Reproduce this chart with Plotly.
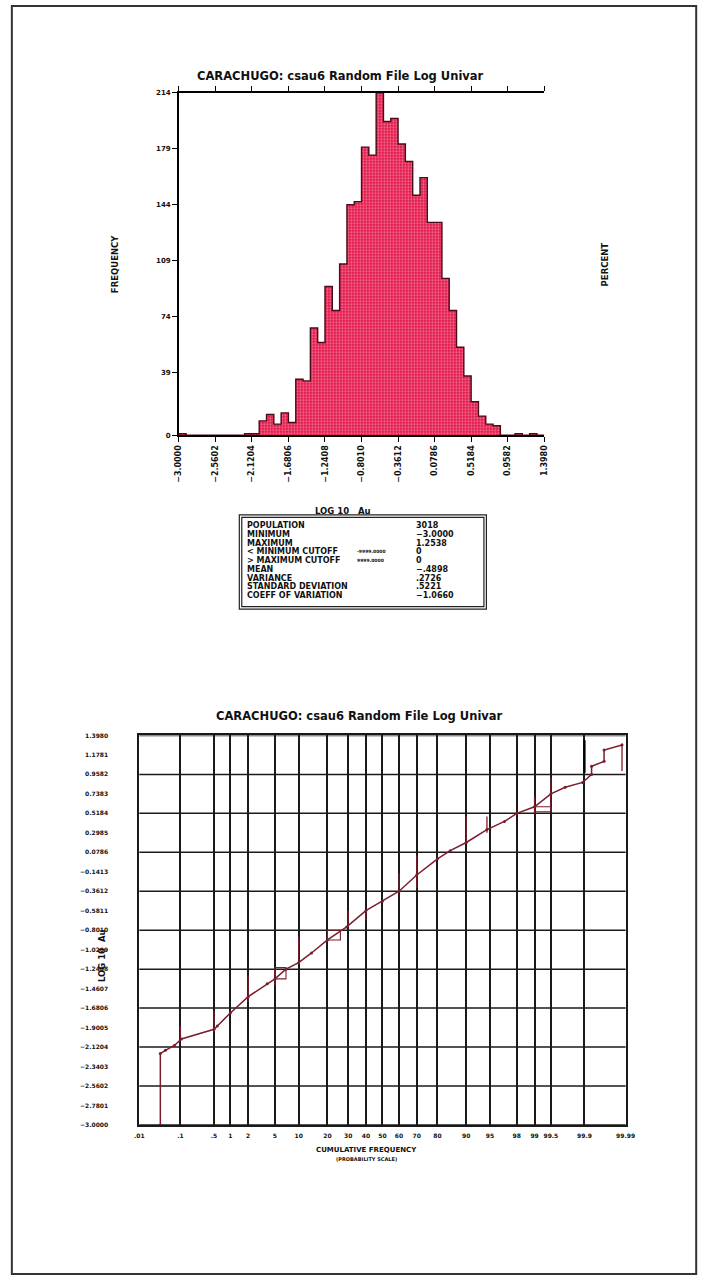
import plotly.graph_objects as go
from statistics import NormalDist

# ---------------- data ----------------
title_text = "CARACHUGO: csau6 Random File Log Univar"

hist_min = -3.0
hist_max = 1.398
n_bins = 50
# counts per bin (50 equal bins between hist_min and hist_max)
hist_counts = [1, 0, 0, 0, 0, 0, 0, 0, 0, 1,
               1, 9, 13, 7, 14, 8, 35, 34, 67, 58,
               93, 78, 107, 144, 146, 180, 175, 214, 196, 198,
               182, 171, 150, 161, 133, 133, 98, 78, 55, 37,
               21, 12, 7, 6, 0, 0, 1, 0, 1, 0]
freq_ticks = [0, 39, 74, 109, 144, 179, 214]
population = 3018

stat_labels = ["POPULATION", "MINIMUM", "MAXIMUM", "< MINIMUM CUTOFF", "> MAXIMUM CUTOFF",
               "MEAN", "VARIANCE", "STANDARD DEVIATION", "COEFF OF VARIATION"]
stat_cutoffs = ["", "", "", "-9999.0000", "9999.0000", "", "", "", ""]
stat_values = ["3018", "\u22123.0000", "1.2538", "0", "0", "\u2212.4898", ".2726", ".5221", "\u22121.0660"]

# probability plot
prob_ticks_pct = [0.01, 0.1, 0.5, 1, 2, 5, 10, 20, 30, 40, 50, 60, 70, 80, 90, 95, 98, 99, 99.5, 99.9, 99.99]
prob_tick_text = [".01", ".1", ".5", "1", "2", "5", "10", "20", "30", "40", "50", "60", "70", "80",
                  "90", "95", "98", "99", "99.5", "99.9", "99.99"]
value_ticks = [1.3980, 1.1781, 0.9582, 0.7383, 0.5184, 0.2985, 0.0786, -0.1413, -0.3612, -0.5811,
               -0.8010, -1.0209, -1.2408, -1.4607, -1.6806, -1.9005, -2.1204, -2.3403, -2.5602,
               -2.7801, -3.0000]

cum_pct = [0.034, 0.034, 0.045, 0.073, 0.105, 0.5, 0.577, 1, 2, 3.9, 5, 7.0, 10, 13.9, 20, 29.2,
           40, 50, 60, 70, 80, 85, 90, 94.5, 96.9, 98, 99, 99.5, 99.74, 99.89, 99.931, 99.931,
           99.965, 99.965, 99.9876]
cum_val = [-3.0, -2.194, -2.157, -2.102, -2.029, -1.919, -1.882, -1.735, -1.552, -1.406, -1.351,
           -1.241, -1.168, -1.058, -0.911, -0.764, -0.581, -0.471, -0.361, -0.178, 0.005, 0.097,
           0.189, 0.335, 0.427, 0.518, 0.592, 0.738, 0.812, 0.867, 0.958, 1.050, 1.105, 1.233, 1.29]

spike_pct = [0.1, 0.5, 2, 5, 10, 30, 40, 60, 70, 90, 94.5, 99, 99.5, 99.9876]
spike_lo = [-2.047, -1.955, -1.607, -1.424, -1.168, -0.764, -0.691, -0.361, -0.325, 0.189, 0.298,
            0.518, 0.555, 0.995]
spike_hi = [-1.882, -1.717, -1.314, -1.241, -0.874, -0.581, -0.581, -0.160, 0.042, 0.482, 0.482,
            0.702, 0.922, 1.306]
black_spike_pct = [99.9]
black_spike_lo = [0.977]
black_spike_hi = [1.343]

box_pct0 = [5, 20, 99]
box_pct1 = [7, 26, 99.5]
box_lo = [-1.351, -0.911, 0.537]
box_hi = [-1.223, -0.801, 0.592]

# ---------------- helpers ----------------
W, H = 715, 1285


def px(x):
    return x / W


def py(y):
    return 1 - y / H


nd = NormalDist()


def zq(p):
    return nd.inv_cdf(p / 100.0)


bw = (hist_max - hist_min) / n_bins
centers = [hist_min + (i + 0.5) * bw for i in range(n_bins)]
edges = [hist_min + i * bw for i in range(n_bins + 1)]

RED = "#e3184b"
DARK = "#4a0c18"
CURVE = "#7a1e2c"
FONT = "DejaVu Sans"
INK = "#111111"

fig = go.Figure()

# ---------------- histogram ----------------
fig.add_trace(go.Bar(
    x=centers, y=hist_counts, width=bw, xaxis="x", yaxis="y",
    marker=dict(color=RED, line=dict(width=0),
                pattern=dict(shape=".", fillmode="overlay", fgcolor="#fbe3ea", bgcolor=RED,
                             size=3, solidity=0.35)),
    showlegend=False, hoverinfo="skip"))

step_x = edges
step_y = hist_counts + [hist_counts[-1]]
fig.add_trace(go.Scatter(x=step_x, y=step_y, mode="lines", line=dict(color=DARK, width=1.4, shape="hv"),
                         xaxis="x", yaxis="y", showlegend=False, hoverinfo="skip"))

hist_xticks = [hist_min + i * (hist_max - hist_min) / 10 for i in range(11)]
hist_xtext = [("%.4f" % v).replace("-", "\u2212") for v in hist_xticks]
pct_ticks = freq_ticks[1:]
pct_text = ["%.1f" % (v / population * 100) for v in pct_ticks]

# ---------------- probability plot ----------------
fig.add_trace(go.Scatter(x=[zq(p) for p in cum_pct], y=cum_val, mode="lines+markers",
                         line=dict(color=CURVE, width=1.5), marker=dict(color=CURVE, size=3),
                         xaxis="x3", yaxis="y3", showlegend=False, hoverinfo="skip"))

sx, sy = [], []
for p, lo, hi in zip(spike_pct, spike_lo, spike_hi):
    sx += [zq(p), zq(p), None]
    sy += [lo, hi, None]
fig.add_trace(go.Scatter(x=sx, y=sy, mode="lines", line=dict(color=CURVE, width=1.3),
                         xaxis="x3", yaxis="y3", showlegend=False, hoverinfo="skip"))
bx, by = [], []
for p, lo, hi in zip(black_spike_pct, black_spike_lo, black_spike_hi):
    bx += [zq(p), zq(p), None]
    by += [lo, hi, None]
fig.add_trace(go.Scatter(x=bx, y=by, mode="lines", line=dict(color="black", width=2.2),
                         xaxis="x3", yaxis="y3", showlegend=False, hoverinfo="skip"))
rx, ry = [], []
for p0, p1, lo, hi in zip(box_pct0, box_pct1, box_lo, box_hi):
    rx += [zq(p0), zq(p1), zq(p1), zq(p0), zq(p0), None]
    ry += [hi, hi, lo, lo, hi, None]
fig.add_trace(go.Scatter(x=rx, y=ry, mode="lines", line=dict(color=CURVE, width=1.1),
                         xaxis="x3", yaxis="y3", showlegend=False, hoverinfo="skip"))

shapes = []
for v in value_ticks[::2]:
    shapes.append(dict(type="line", xref="x3 domain", x0=0, x1=1, yref="y3", y0=v, y1=v,
                       line=dict(color="#1a1a1a", width=1.5), layer="below"))

# page border
shapes.append(dict(type="rect", xref="paper", yref="paper", x0=px(7), x1=px(705), y0=py(1278), y1=py(2),
                   line=dict(color="#333333", width=2)))
# stats box (double border)
shapes.append(dict(type="rect", xref="paper", yref="paper", x0=px(239), x1=px(491), y0=py(609), y1=py(514),
                   line=dict(color="#222222", width=1.2)))
shapes.append(dict(type="rect", xref="paper", yref="paper", x0=px(241.5), x1=px(488.5), y0=py(606.5),
                   y1=py(516.5), line=dict(color="#222222", width=1.2)))

tickfont = dict(family=FONT, size=8, color=INK, weight="bold")
small_font = dict(family=FONT, size=6, color=INK, weight="bold")


def note(text, x, y, size, angle=0, bold=False, xanchor="center"):
    f = dict(family=FONT, size=size, color=INK)
    if bold:
        f["weight"] = "bold"
    return dict(text=text, x=px(x), y=py(y), xref="paper", yref="paper", showarrow=False,
                textangle=angle, xanchor=xanchor, yanchor="middle", font=f)


annotations = [
    note(title_text, 342, 72, 11.5, bold=True),
    note("FREQUENCY", 113, 262, 8.5, angle=-90, bold=True),
    note("PERCENT", 612, 262, 8.5, angle=-90, bold=True),
    note("LOG 10&nbsp;&nbsp;&nbsp;Au", 345, 510, 8.5, bold=True),
    note(title_text, 362, 716, 11.5, bold=True),
    note("LOG 10&nbsp;&nbsp;Au", 99, 958, 8.5, angle=-90, bold=True),
    note("CUMULATIVE FREQUENCY", 369, 1153, 7, bold=True),
    note("(PROBABILITY SCALE)", 369, 1162, 5, bold=True),
]
for i, (lab, cut, val) in enumerate(zip(stat_labels, stat_cutoffs, stat_values)):
    yy = 525 + i * 8.8
    annotations.append(note(lab, 245, yy, 8, bold=True, xanchor="left"))
    annotations.append(note(val, 417, yy, 8, bold=True, xanchor="left"))
    if cut:
        annotations.append(note(cut, 357, yy, 4.5, bold=True, xanchor="left"))

fig.update_layout(
    width=W, height=H, margin=dict(l=0, r=0, t=0, b=0),
    paper_bgcolor="white", plot_bgcolor="white",
    bargap=0, showlegend=False,
    xaxis=dict(domain=[px(177.3), px(550)], range=[hist_min, hist_max], tickvals=hist_xticks,
               ticktext=hist_xtext, tickangle=-90, ticks="outside", ticklen=5, tickwidth=1.3,
               tickcolor="black", showline=True, linecolor="black", linewidth=1.5, mirror="ticks",
               showgrid=False, zeroline=False, tickfont=tickfont, anchor="y"),
    yaxis=dict(domain=[py(434), py(89.3)], range=[0, 214], tickvals=freq_ticks,
               ticks="outside", ticklen=5, tickwidth=1.3, tickcolor="black", showline=True,
               linecolor="black", linewidth=1.5, showgrid=False, zeroline=False,
               tickfont=dict(family=FONT, size=7, color=INK, weight="bold"), anchor="x"),
    yaxis2=dict(overlaying="y", side="right", range=[0, 214], tickvals=pct_ticks, ticktext=pct_text,
                ticks="outside", ticklen=4, tickwidth=1.3, tickcolor="black", showline=True,
                linecolor="black", linewidth=1.5, showgrid=False, zeroline=False,
                tickfont=dict(family=FONT, size=7, color=INK, weight="bold"), anchor="x"),
    xaxis3=dict(domain=[px(137), px(633)], range=[zq(0.01), zq(99.99)],
                tickvals=[zq(p) for p in prob_ticks_pct], ticktext=prob_tick_text,
                showgrid=True, gridcolor="#1a1a1a", gridwidth=1.5, showline=True, linecolor="#1a1a1a",
                linewidth=1.8, mirror=True, ticks="", zeroline=False, tickfont=small_font,
                ticklabelstandoff=4, anchor="y3"),
    yaxis3=dict(domain=[py(1128), py(736)], range=[-3.0, 1.398], tickvals=value_ticks,
                ticktext=[("%.4f" % v).replace("-", "\u2212") for v in value_ticks],
                showgrid=False, showline=True, linecolor="#1a1a1a", linewidth=1.8, mirror=True,
                ticks="", zeroline=False, tickfont=small_font, ticklabelstandoff=28, anchor="x3"),
    shapes=shapes, annotations=annotations,
)

fig.write_html("out.html")
